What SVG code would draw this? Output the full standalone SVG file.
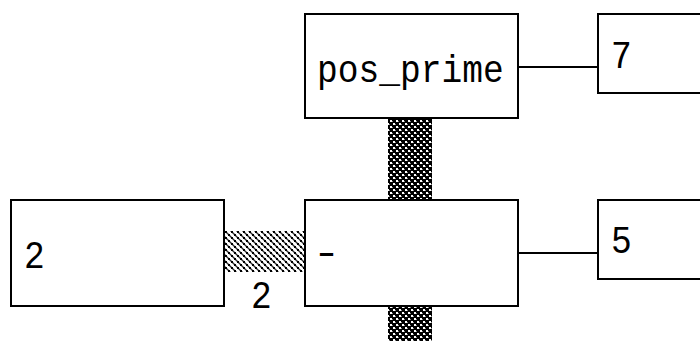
<svg xmlns="http://www.w3.org/2000/svg" width="700" height="341" viewBox="0 0 700 341">
  <defs>
    <!-- dense checker for the vertical links -->
    <pattern id="dense" width="6" height="6" patternUnits="userSpaceOnUse">
      <rect width="6" height="6" fill="#000"/>
      <rect x="0" y="0" width="2" height="2" fill="#fff"/>
      <rect x="3" y="3" width="2" height="2" fill="#fff"/>
      <rect x="2" y="1" width="1" height="1" fill="#888"/>
      <rect x="5" y="4" width="1" height="1" fill="#888"/>
    </pattern>
    <!-- diagonal stripe for the horizontal link -->
    <pattern id="stripe" width="6" height="6" patternUnits="userSpaceOnUse">
      <rect width="6" height="6" fill="#fff"/>
      <path d="M0 0 L6 6 M-3 3 L3 9 M3 -3 L9 3" stroke="#333" stroke-width="1.4"/>
      <rect x="0" y="0" width="2" height="2" fill="#000"/>
      <rect x="3" y="3" width="2" height="2" fill="#000"/>
    </pattern>
  </defs>
  <style>
    .box { fill: #fff; stroke: #000; stroke-width: 2; }
    .wire { stroke: #000; stroke-width: 2; fill: none; }
    .lbl { font-family: "Liberation Mono", "DejaVu Sans Mono", monospace; font-size: 34.6px; fill: #000; }
  </style>
  <rect width="700" height="341" fill="#fff"/>

  <g id="connectors">
    <line class="wire" x1="519" y1="67" x2="598" y2="67"/>
    <line class="wire" x1="519" y1="253" x2="598" y2="253"/>
    <rect x="388" y="119" width="44" height="80" fill="url(#dense)"/>
    <rect x="388" y="307" width="44" height="34" fill="url(#dense)"/>
    <rect x="224" y="231" width="80" height="41" fill="url(#stripe)"/>
    <text class="lbl" transform="translate(251,308) scale(1,1.13)">2</text>
  </g>

  <g id="node-pos-prime">
    <rect class="box" x="305" y="14" width="213" height="104"/>
    <text class="lbl" transform="translate(317,82) scale(1,1.13)">pos_prime</text>
  </g>
  <g id="node-7">
    <rect class="box" x="598" y="14" width="200" height="79"/>
    <text class="lbl" transform="translate(611,68) scale(1,1.13)">7</text>
  </g>
  <g id="node-minus">
    <rect class="box" x="305" y="200" width="213" height="106"/>
    <text class="lbl" transform="translate(312,265) scale(1.4,1.13)">-</text>
  </g>
  <g id="node-5">
    <rect class="box" x="598" y="200" width="200" height="79"/>
    <text class="lbl" transform="translate(611,253) scale(1,1.13)">5</text>
  </g>
  <g id="node-2">
    <rect class="box" x="11" y="200" width="213" height="106"/>
    <text class="lbl" transform="translate(24,268) scale(1,1.13)">2</text>
  </g>
</svg>
